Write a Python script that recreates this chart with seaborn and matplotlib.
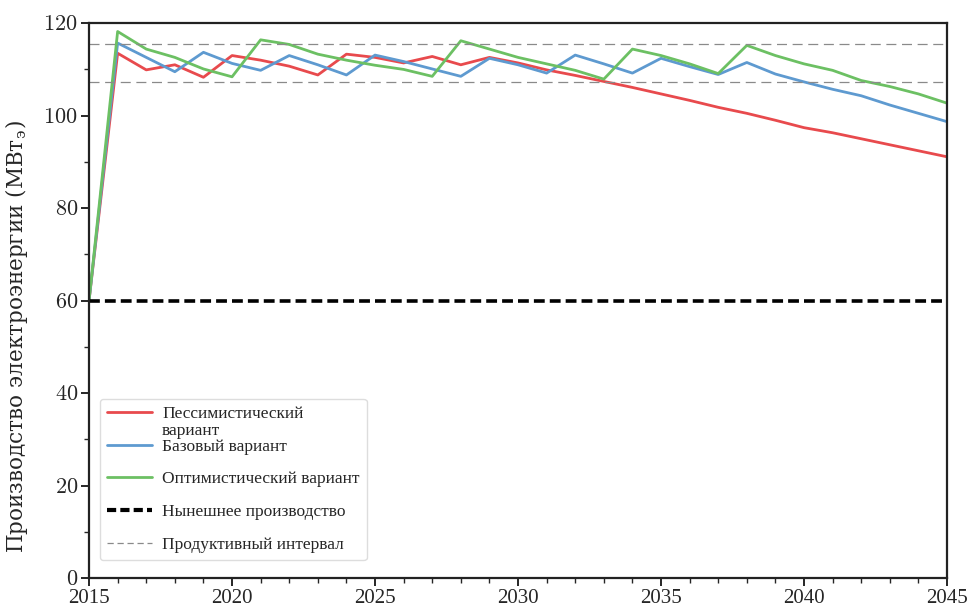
import matplotlib
matplotlib.use("Agg")
import matplotlib.pyplot as plt
from matplotlib.lines import Line2D
from matplotlib.ticker import MultipleLocator, FuncFormatter
import numpy as np
import pandas as pd
import seaborn as sns

years = list(range(2015, 2046))

pessimistic = [60.0, 113.5, 109.9, 111.0, 108.3, 113.0, 112.0, 110.7, 108.8, 113.3,
               112.6, 111.4, 112.8, 111.0, 112.6, 111.4, 109.9, 108.7, 107.4, 106.1,
               104.7, 103.3, 101.8, 100.5, 99.0, 97.4, 96.3, 95.0, 93.7, 92.4, 91.1]
base = [60.0, 115.7, 112.6, 109.5, 113.7, 111.3, 109.8, 113.0, 111.0, 108.8,
        113.1, 111.7, 110.1, 108.5, 112.4, 111.0, 109.2, 113.1, 111.2, 109.2,
        112.4, 110.6, 108.9, 111.5, 109.0, 107.3, 105.7, 104.3, 102.3, 100.5, 98.7]
optimistic = [60.0, 118.2, 114.4, 112.6, 110.1, 108.4, 116.4, 115.4, 113.3, 112.0,
              110.9, 110.0, 108.5, 116.2, 114.4, 112.6, 111.2, 109.8, 107.9, 114.4,
              113.0, 111.2, 109.1, 115.2, 113.0, 111.2, 109.8, 107.6, 106.3, 104.7, 102.7]

current_output = 60.0
productive_interval = [107.2, 115.6]

scenario_names = ["Пессимистический вариант", "Базовый вариант", "Оптимистический вариант"]
scenario_colors = ["#e84a4d", "#5e9ad0", "#6cc063"]
current_label = "Нынешнее производство"
interval_label = "Продуктивный интервал"
y_label = "Производство электроэнергии (МВт$_\\mathregular{э}$)"

df = pd.DataFrame({
    "year": years * 3,
    "value": pessimistic + base + optimistic,
    "scenario": [scenario_names[0]] * len(years)
                + [scenario_names[1]] * len(years)
                + [scenario_names[2]] * len(years),
})

sns.set_style("ticks")
plt.rcParams["font.family"] = ["Liberation Serif", "DejaVu Serif"]
plt.rcParams["mathtext.fontset"] = "cm"

fig = plt.figure(figsize=(9.71, 6.10), dpi=100)
ax = fig.add_axes([0.0917, 0.0525, 0.8836, 0.9095])

sns.lineplot(data=df, x="year", y="value", hue="scenario",
             hue_order=scenario_names, palette=scenario_colors,
             linewidth=2.0, ax=ax, legend=False)

ax.axhline(current_output, color="black", linestyle=(0, (3.0, 1.4)), linewidth=2.6)
for level in productive_interval:
    ax.axhline(level, color="#8a8a8a", linestyle=(0, (8, 4.5)), linewidth=0.9)

ax.set_xlim(2015, 2045)
ax.set_ylim(0, 120)
ax.xaxis.set_major_locator(MultipleLocator(5))
ax.xaxis.set_minor_locator(MultipleLocator(1))
ax.yaxis.set_major_locator(MultipleLocator(20))
ax.yaxis.set_minor_locator(MultipleLocator(10))
ax.yaxis.set_major_formatter(FuncFormatter(lambda v, p: f"${v:.0f}$"))
ax.set_xlabel("")
ax.set_ylabel(y_label, fontsize=15.5, fontfamily=["DejaVu Serif"])
ax.yaxis.set_label_coords(-0.069, 0.435)

for spine in ax.spines.values():
    spine.set_linewidth(1.6)
    spine.set_color("#222222")
ax.tick_params(axis="both", which="major", length=6, width=1.4, labelsize=15, pad=2)
ax.tick_params(axis="y", which="major", labelsize=16)
ax.tick_params(axis="both", which="minor", length=3.5, width=1.0)

handles = [Line2D([], [], color=c, linewidth=2.0) for c in scenario_colors]
handles.append(Line2D([], [], color="black", linestyle=(0, (2.2, 1.0)), linewidth=3.0))
handles.append(Line2D([], [], color="#8a8a8a", linestyle=(0, (5, 3)), linewidth=0.9))
legend_labels = ["Пессимистический"] + scenario_names[1:] + [current_label, interval_label]
leg = ax.legend(handles, legend_labels, loc="lower left",
                bbox_to_anchor=(0.0128, 0.0324), borderaxespad=0.0,
                fontsize=12.5, frameon=True, fancybox=True, framealpha=1.0,
                edgecolor="#dddddd", handlelength=2.6, handletextpad=0.55,
                labelspacing=0.95, borderpad=0.42)

# the first label wraps onto a second line that overflows below its entry
fig.canvas.draw()
first = leg.get_texts()[0].get_window_extent()
W, H = fig.bbox.width, fig.bbox.height
fig.text(first.x0 / W, (first.y0 - 1) / H, "вариант", fontsize=12.5,
         va="top", ha="left", zorder=10)

fig.savefig("out.png", dpi=100)
